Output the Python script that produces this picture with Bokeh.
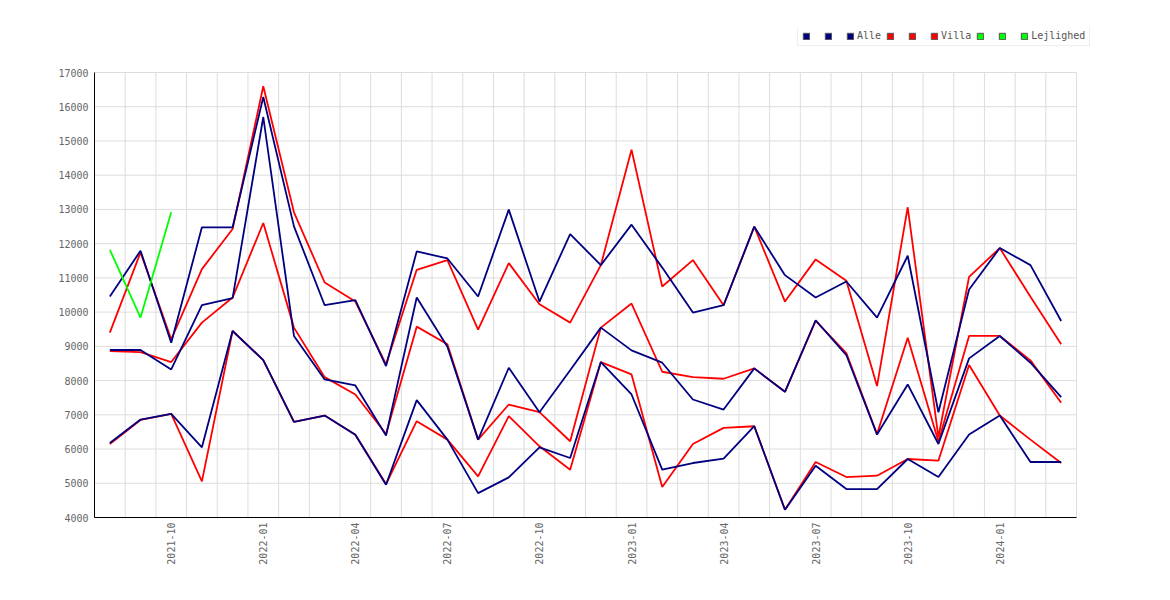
import math
from bokeh.plotting import figure
from bokeh.models import Legend, LegendItem, FixedTicker, Range1d
from bokeh.embed import file_html
from bokeh.resources import INLINE

months = ["2021-08", "2021-09", "2021-10", "2021-11", "2021-12",
          "2022-01", "2022-02", "2022-03", "2022-04", "2022-05", "2022-06",
          "2022-07", "2022-08", "2022-09", "2022-10", "2022-11", "2022-12",
          "2023-01", "2023-02", "2023-03", "2023-04", "2023-05", "2023-06",
          "2023-07", "2023-08", "2023-09", "2023-10", "2023-11", "2023-12",
          "2024-01", "2024-02", "2024-03"]

tick_months = ["2021-10", "2022-01", "2022-04", "2022-07", "2022-10",
               "2023-01", "2023-04", "2023-07", "2023-10", "2024-01"]

y_ticks = list(range(4000, 17001, 1000))

alle_1 = [10455, 11793, 9107, 12477, 12477, 16285, 12506, 10201, 10348, 8424,
          11773, 11568, 10455, 12994, 10309, 12281, 11373, 12555, 11300, 9986,
          10201, 12496, 11080, 10426, 10895, 9840, 11647, 7076, 10660, 11871,
          11373, 9742]
alle_2 = [8893, 8893, 8326, 10201, 10406, 15700, 9303, 8033, 7857, 6393,
          10426, 8990, 6275, 8375, 7076, 8300, 9547, 8883, 8522, 7447,
          7154, 8356, 7672, 9762, 8746, 6422, 7887, 6148, 8648, 9303,
          8522, 7516]
alle_3 = [6178, 6861, 7027, 6051, 9449, 8600, 6793, 6978, 6420, 4957,
          7428, 6275, 4713, 5172, 6051, 5738, 8541, 7594, 5397, 5592,
          5719, 6666, 4225, 5514, 4830, 4830, 5709, 5182, 6422, 6978,
          5621, 5621]

villa_1 = [9400, 11744, 9205, 11256, 12428, 16598, 12916, 10865, 10309, 8470,
           11236, 11520, 9488, 11432, 10231, 9693, 11373, 14743, 10748, 11520,
           10201, 12496, 10309, 11540, 10914, 7838, 13063, 6350, 11032, 11871,
           10450, 9059]
villa_2 = [8863, 8834, 8541, 9693, 10426, 12604, 9547, 8100, 7594, 6440,
           9576, 9060, 6275, 7301, 7076, 6227, 9547, 10250, 8258, 8102,
           8053, 8356, 7672, 9742, 8805, 6440, 9254, 6220, 9303, 9303,
           8590, 7350]
villa_3 = [6148, 6850, 7027, 5055, 9449, 8600, 6793, 6978, 6420, 4977,
           6813, 6275, 5201, 6959, 6080, 5397, 8541, 8180, 4889, 6148,
           6617, 6666, 4225, 5621, 5182, 5221, 5709, 5660, 8453, 6978,
           6275, 5592]

lejlighed_1 = [11822, 9840, 12916]

group_names = ["Alle", "Villa", "Lejlighed"]
group_colors = ["#000080", "#ff0000", "#00ff00"]

x = list(range(len(months)))
FONT = "DejaVu Sans Mono"
LW = 1.8
GRID = "#dddddd"

PLOT_W, PLOT_H = 982, 445   # size of the data area
LEGEND_ROOM = 45            # extra frame space above the data area (legend)
EXTRA_RIGHT = 16            # extra frame space right of the data area (legend text)
x_lo, x_hi = -0.5, len(months) - 0.5
y_lo, y_hi = y_ticks[0], y_ticks[-1]
y_top = y_hi + (y_hi - y_lo) * LEGEND_ROOM / PLOT_H
x_right = x_hi + (x_hi - x_lo) * EXTRA_RIGHT / PLOT_W

p = figure(frame_width=PLOT_W + EXTRA_RIGHT, frame_height=PLOT_H + LEGEND_ROOM,
           min_border_left=94, min_border_right=80 - EXTRA_RIGHT,
           min_border_top=27, min_border_bottom=75,
           x_range=Range1d(x_lo, x_right),
           y_range=Range1d(y_lo, y_top),
           output_backend="svg", toolbar_location=None)
p.outline_line_color = None
p.background_fill_color = "white"
p.xgrid.visible = False
p.ygrid.visible = False

# grid lines limited to the data area
gx = [k + 0.5 for k in range(-1, len(months))]
p.segment(x0=gx, x1=gx, y0=[y_lo] * len(gx), y1=[y_hi] * len(gx),
          line_color=GRID, line_width=1)
p.segment(x0=[x_lo] * len(y_ticks), x1=[x_hi] * len(y_ticks), y0=y_ticks, y1=y_ticks,
          line_color=GRID, line_width=1)

# red first, navy on top, green last
for ys in [villa_1, villa_2, villa_3]:
    p.line(x, ys, line_color=group_colors[1], line_width=LW)
for ys in [alle_1, alle_2, alle_3]:
    p.line(x, ys, line_color=group_colors[0], line_width=LW)
p.line(x[:len(lejlighed_1)], lejlighed_1, line_color=group_colors[2], line_width=LW)

# axes
tick_pos = [months.index(m) for m in tick_months]
p.xaxis.ticker = FixedTicker(ticks=tick_pos)
p.xaxis.major_label_overrides = {i: months[i] for i in tick_pos}
p.xaxis.major_label_orientation = math.pi / 2
p.xaxis.bounds = (x_lo, x_hi)
p.yaxis.ticker = FixedTicker(ticks=y_ticks)
p.yaxis.bounds = (y_lo, y_hi)
for ax in (p.xaxis, p.yaxis):
    ax.major_tick_out = 0
    ax.major_tick_in = 0
    ax.minor_tick_out = 0
    ax.minor_tick_in = 0
    ax.axis_line_color = "black"
    ax.axis_line_width = 1
    ax.major_label_text_font = FONT
    ax.major_label_text_font_size = "10px"
    ax.major_label_text_color = "#666666"
p.xaxis.major_label_standoff = 5
p.yaxis.major_label_standoff = 6

# legend with square swatches (swatch renderers hold no visible data)
nan = float("nan")
items = []
for name, col in zip(group_names, group_colors):
    r = p.quad(left=[nan], right=[nan], top=[nan], bottom=[nan], fill_color=col,
               line_color="#555555", line_width=1)
    items.append(LegendItem(label=" ", renderers=[r]))
    items.append(LegendItem(label=" ", renderers=[r]))
    items.append(LegendItem(label=name, renderers=[r]))

legend = Legend(items=items, orientation="horizontal",
                location=(703, PLOT_H + 26),
                label_text_font=FONT, label_text_font_size="10px",
                label_text_color="#555555",
                glyph_width=8, glyph_height=8, label_standoff=3, spacing=5,
                padding=4, margin=0, label_height=11, label_width=6,
                border_line_color="#dddddd", background_fill_color="white")
p.add_layout(legend, "center")

open("out.html", "w").write(file_html(p, INLINE))
